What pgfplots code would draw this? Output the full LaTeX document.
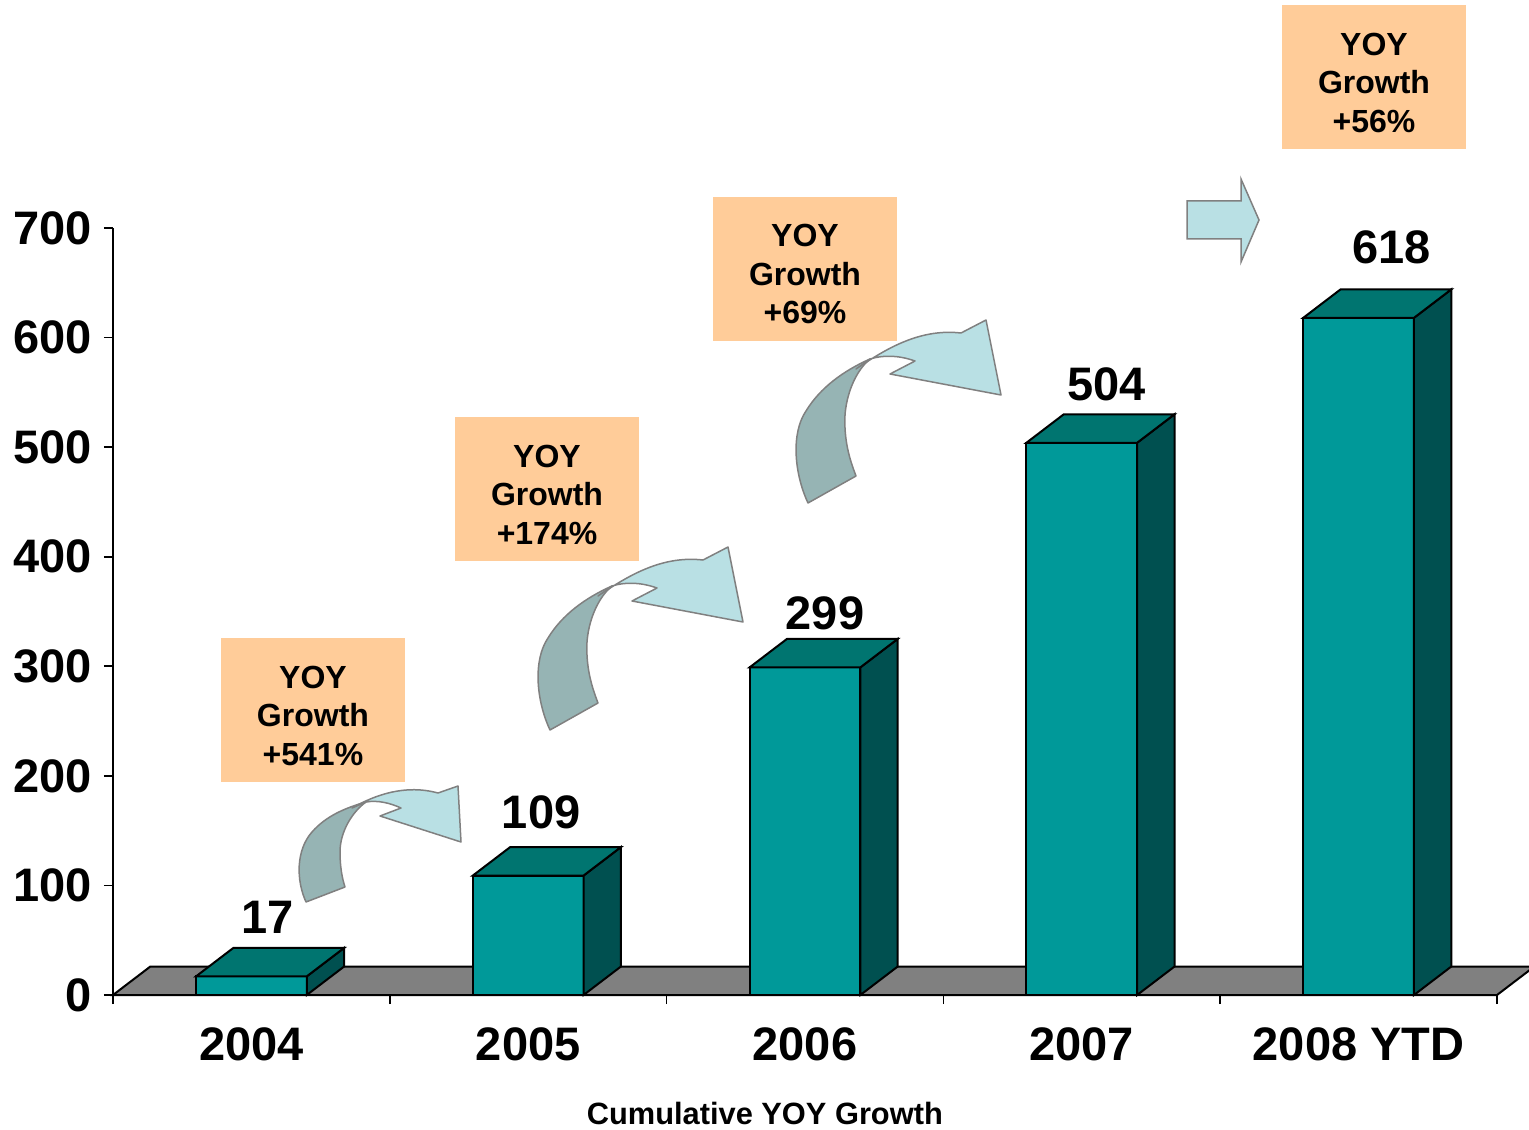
\documentclass[border=0pt]{standalone}
\usepackage{pgfplots}
\pgfplotsset{compat=1.18}
\usepackage{pgfplotstable}
\usepackage{fontspec}
\setmainfont{Liberation Sans}
\definecolor{barfront}{RGB}{0,153,153}
\definecolor{bartop}{RGB}{0,117,112}
\definecolor{barside}{RGB}{0,80,80}
\definecolor{floorgray}{RGB}{128,128,128}
\definecolor{peach}{RGB}{255,204,153}
\definecolor{arrdark}{RGB}{150,180,180}
\definecolor{arrlight}{RGB}{185,224,228}
\definecolor{arredge}{RGB}{128,128,128}
% x, value, label offsets (pt)
\pgfplotstableread{
x y dx dy
0 17 8 20.75
1 109 6.5 22.85
2 299 10 18.25
3 504 12.5 20.45
4 618 16.5 26.45
}\valuetable
\newcommand\bigfont{\fontsize{23.5}{28}\selectfont\bfseries}
\newcommand\boxfont{\fontsize{16}{19.25}\selectfont\bfseries}
\begin{document}
\begin{tikzpicture}
\begin{axis}[
  scale only axis, width=692pt, height=383.5pt,
  xmin=-0.5, xmax=4.5, ymin=0, ymax=700,
  clip=false,
  axis lines=left,
  axis line style={-, line width=0.8pt},
  tick style={line width=0.8pt, black},
  tick align=outside,
  major tick length=4.5pt,
  xtick={-0.5,0.5,1.5,2.5,3.5,4.5},
  xticklabels={,,,,,},
  extra x ticks={0,1,2,3,4},
  extra x tick labels={2004,2005,2006,2007,2008 YTD},
  extra x tick style={major tick length=0pt},
  xticklabel style={font=\bigfont, yshift=-13pt},
  ytick={0,100,...,700},
  yticklabel style={font=\bigfont, xshift=-2.5pt},
  /pgf/number format/assume math mode=true,
]
% floor
\addplot[fill=floorgray, draw=black, line width=1pt] coordinates {(-0.5,0) (4.5,0) (4.635,26) (-0.365,26)} -- cycle;
% front faces
\addplot[ybar, bar width=0.4, bar shift=0pt, fill=barfront, draw=black, line width=1pt,
  visualization depends on={\thisrow{dx} \as \labdx},
  visualization depends on={\thisrow{dy} \as \labdy},
  nodes near coords,
  nodes near coords style={font=\bigfont, anchor=south, inner sep=0pt, xshift=\labdx pt, yshift=\labdy pt, text=black}]
  table[x=x, y=y] {\valuetable};
% side faces
\addplot[fill=barside, draw=black, line width=1pt] coordinates {(0.2,0) (0.335,26) (0.335,43) (0.2,17)} -- cycle;
\addplot[fill=barside, draw=black, line width=1pt] coordinates {(1.2,0) (1.335,26) (1.335,135) (1.2,109)} -- cycle;
\addplot[fill=barside, draw=black, line width=1pt] coordinates {(2.2,0) (2.335,26) (2.335,325) (2.2,299)} -- cycle;
\addplot[fill=barside, draw=black, line width=1pt] coordinates {(3.2,0) (3.335,26) (3.335,530) (3.2,504)} -- cycle;
\addplot[fill=barside, draw=black, line width=1pt] coordinates {(4.2,0) (4.335,26) (4.335,644) (4.2,618)} -- cycle;
% top faces
\addplot[fill=bartop, draw=black, line width=1pt] coordinates {(-0.2,17) (0.2,17) (0.335,43) (-0.065,43)} -- cycle;
\addplot[fill=bartop, draw=black, line width=1pt] coordinates {(0.8,109) (1.2,109) (1.335,135) (0.935,135)} -- cycle;
\addplot[fill=bartop, draw=black, line width=1pt] coordinates {(1.8,299) (2.2,299) (2.335,325) (1.935,325)} -- cycle;
\addplot[fill=bartop, draw=black, line width=1pt] coordinates {(2.8,504) (3.2,504) (3.335,530) (2.935,530)} -- cycle;
\addplot[fill=bartop, draw=black, line width=1pt] coordinates {(3.8,618) (4.2,618) (4.335,644) (3.935,644)} -- cycle;
% growth boxes
\node[fill=peach, minimum width=92pt, minimum height=72pt, inner sep=0pt] at (axis cs:0.2225,260.1) {};
\node[font=\boxfont, align=center, yshift=-2.75pt] at (axis cs:0.2225,260.1) {YOY\\Growth\\+541\%};
\node[fill=peach, minimum width=92pt, minimum height=72pt, inner sep=0pt] at (axis cs:1.068,461.8) {};
\node[font=\boxfont, align=center, yshift=-2.75pt] at (axis cs:1.068,461.8) {YOY\\Growth\\+174\%};
\node[fill=peach, minimum width=92pt, minimum height=72pt, inner sep=0pt] at (axis cs:2.0,662.6) {};
\node[font=\boxfont, align=center, yshift=-2.75pt] at (axis cs:2.0,662.6) {YOY\\Growth\\+69\%};
\node[fill=peach, minimum width=92pt, minimum height=72pt, inner sep=0pt] at (axis cs:4.0557,837.8) {};
\node[font=\boxfont, align=center, yshift=-2.75pt] at (axis cs:4.0557,837.8) {YOY\\Growth\\+56\%};
% title
\node[font=\fontsize{15.4}{18}\selectfont\bfseries] at (axis cs:1.855,-107.7) {Cumulative YOY Growth};
\coordinate (TL) at (axis cs:-0.90824,908.08);
\coordinate (BR) at (axis cs:4.61561,-122.30);
\end{axis}
% arrows (pixel grid of the picture)
\begin{scope}[shift={(TL)}, x=0.5pt, y=-0.5pt, draw=arredge, line width=0.75pt, line join=round]
  % arrow 1
  \filldraw[fill=arrdark] (306,902) .. controls (296,880) and (296,850) .. (312,832)
     .. controls (326,816) and (345,808) .. (366,802)
     .. controls (352,812) and (340,832) .. (340,852)
     .. controls (340,866) and (342,878) .. (345,887) -- cycle;
  \filldraw[fill=arrlight] (352,808) .. controls (375,795) and (405,784) .. (438,793)
     -- (458,786) -- (461,842) -- (380,816) -- (401,808)
     .. controls (390,803) and (378,800) .. (366,802) -- cycle;
  % arrows 2 and 3
  \foreach \sx/\sy in {0/0, 258/-227}{
  \begin{scope}[shift={(\sx,\sy)}]
  \filldraw[fill=arrdark] (550,730) .. controls (536,700) and (533,660) .. (548,638)
     .. controls (562,615) and (585,598) .. (612,586)
     .. controls (595,600) and (585,630) .. (587,655)
     .. controls (588,675) and (593,690) .. (598,703) -- cycle;
  \filldraw[fill=arrlight] (598,596) .. controls (625,578) and (660,555) .. (703,560)
     -- (728,547) -- (743,622) -- (632,601) -- (657,588)
     .. controls (640,582) and (625,582) .. (612,586) -- cycle;
  \end{scope}}
  % straight arrow
  \filldraw[fill=arrlight, line join=miter] (1187,201) -- (1241,201) -- (1241,179) -- (1259,220) -- (1241,262) -- (1241,239) -- (1187,239) -- cycle;
\end{scope}
\pgfresetboundingbox
\path[use as bounding box] (TL) rectangle (BR);
\end{tikzpicture}
\end{document}
